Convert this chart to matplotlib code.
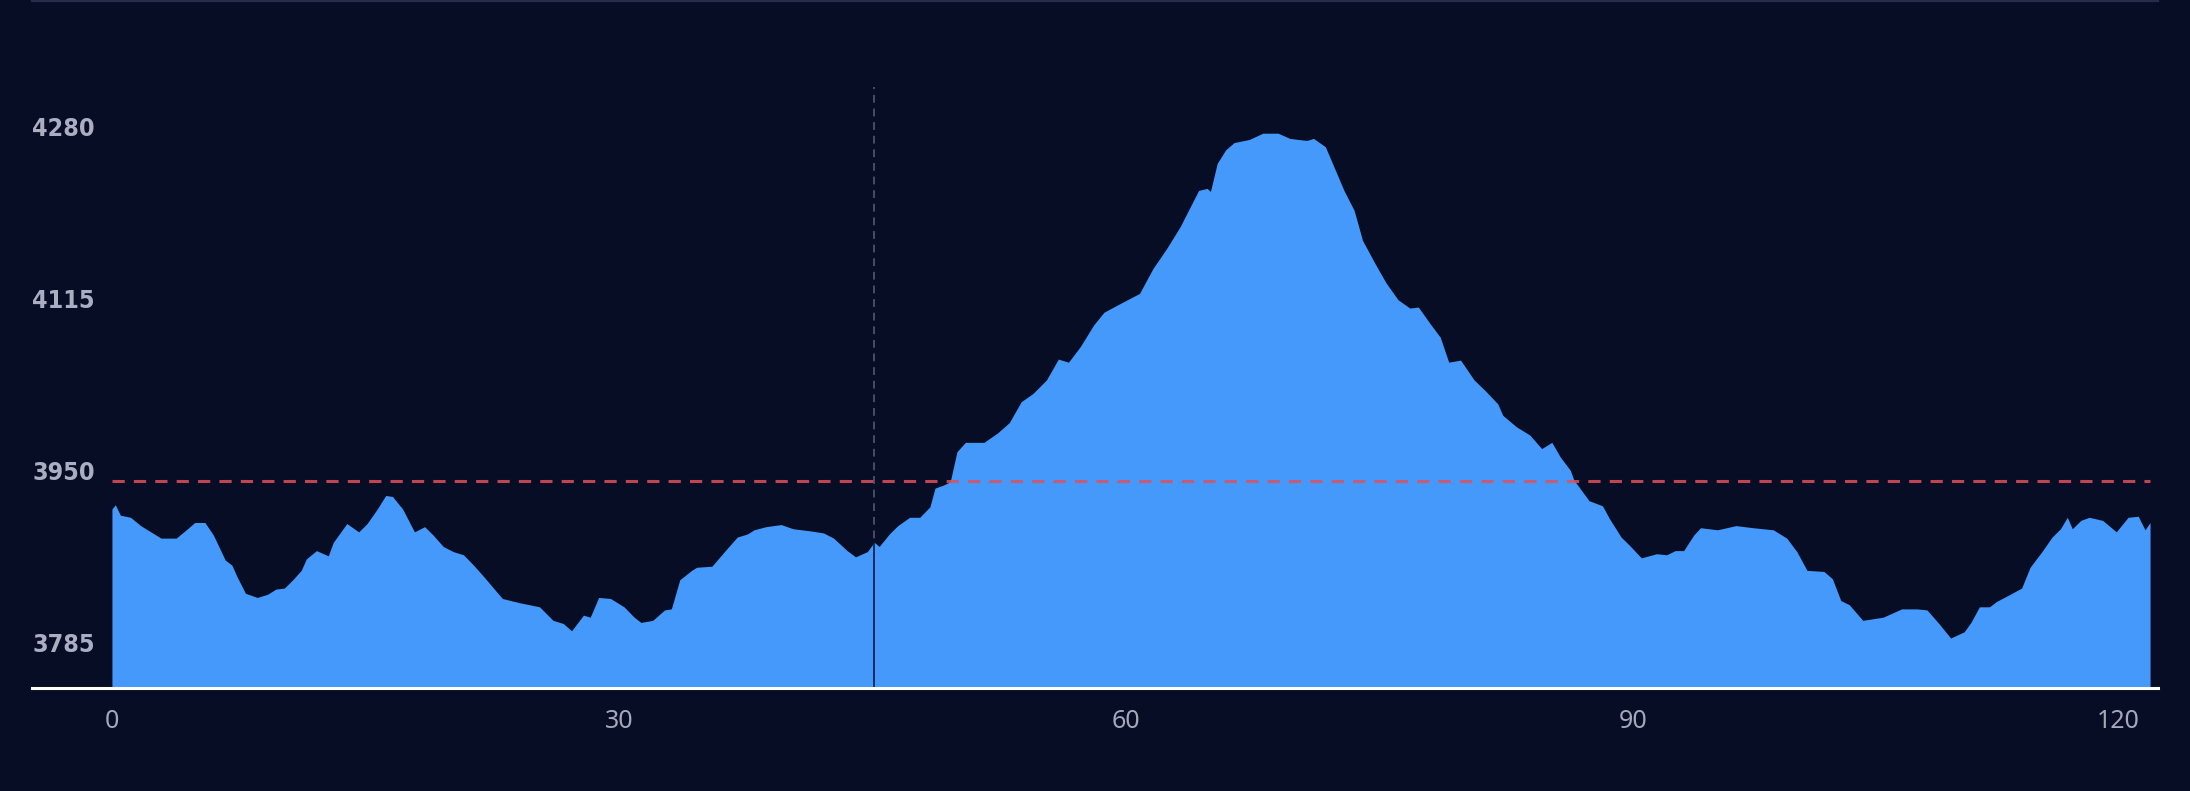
import numpy as np
import matplotlib
matplotlib.use("Agg")
import matplotlib.pyplot as plt
from matplotlib import font_manager

# elevation profile (distance, elevation)
dist = [0.0, 0.2, 0.5, 1.1, 1.7, 2.3, 2.9, 3.8, 4.4, 4.9, 5.5, 6.0, 6.7, 7.1, 7.4,
        7.9, 8.6, 9.2, 9.7, 10.2, 10.7, 11.2, 11.5, 12.1, 12.8, 13.1, 13.9, 14.6,
        15.1, 15.7, 16.2, 16.6, 17.2, 17.9, 18.5, 19.0, 19.6, 20.2, 20.8, 21.4,
        22.0, 23.1, 24.1, 25.3, 26.1, 26.7, 27.2, 27.9, 28.3, 28.8, 29.5, 30.3,
        30.9, 31.3, 32.0, 32.7, 33.1, 33.6, 34.3, 34.6, 35.5, 36.4, 37.0, 37.6,
        38.0, 38.7, 39.6, 40.3, 41.3, 42.1, 42.7, 43.5, 44.0, 44.7, 45.1, 45.4,
        46.0, 46.5, 47.2, 47.8, 48.4, 48.7, 49.2, 49.6, 50.0, 50.5, 51.6, 52.4,
        53.1, 53.8, 54.5, 55.3, 56.0, 56.6, 57.3, 58.1, 58.7, 59.5, 60.2, 60.8,
        61.6, 62.4, 63.2, 64.3, 64.8, 65.0, 65.4, 65.9, 66.4, 67.3, 68.1, 69.0,
        69.7, 70.7, 71.1, 71.8, 72.3, 72.9, 73.5, 74.0, 74.8, 75.4, 76.1, 76.8,
        77.3, 78.0, 78.6, 79.1, 79.8, 80.6, 81.3, 82.0, 82.3, 83.1, 83.9, 84.6,
        85.2, 85.7, 86.3, 86.5, 87.4, 88.2, 88.6, 89.3, 89.8, 90.5, 91.4, 92.0,
        92.5, 93.0, 93.6, 94.0, 95.0, 96.1, 97.1, 98.3, 99.1, 99.7, 100.3, 101.3,
        101.8, 102.3, 102.8, 103.6, 104.8, 105.9, 106.8, 107.4, 108.1, 108.8,
        109.6, 110.0, 110.5, 111.1, 111.5, 112.2, 113.0, 113.5, 114.2, 114.8,
        115.3, 115.7, 116.0, 116.5, 117.0, 117.8, 118.6, 119.3, 119.9, 120.3, 120.6]
elev = [3913, 3917, 3907, 3905, 3897, 3891, 3885, 3885, 3893, 3900, 3900, 3888,
        3864, 3859, 3848, 3832, 3828, 3831, 3836, 3837, 3845, 3854, 3865, 3873,
        3868, 3881, 3899, 3891, 3899, 3913, 3926, 3925, 3913, 3891, 3896, 3888,
        3877, 3872, 3869, 3859, 3848, 3827, 3823, 3819, 3806, 3803, 3796, 3811,
        3809, 3828, 3827, 3819, 3809, 3804, 3806, 3816, 3817, 3845, 3854, 3857,
        3858, 3875, 3886, 3889, 3893, 3896, 3898, 3894, 3892, 3890, 3885, 3873,
        3867, 3872, 3881, 3877, 3889, 3897, 3905, 3905, 3915, 3933, 3936, 3939,
        3968, 3977, 3977, 3986, 3996, 4016, 4024, 4037, 4057, 4054, 4069, 4090,
        4102, 4109, 4115, 4120, 4144, 4163, 4184, 4219, 4221, 4218, 4245, 4258,
        4265, 4268, 4274, 4274, 4269, 4267, 4269, 4261, 4242, 4219, 4200, 4171,
        4147, 4130, 4114, 4106, 4107, 4091, 4078, 4054, 4056, 4037, 4026, 4014,
        4003, 3992, 3984, 3971, 3977, 3963, 3950, 3941, 3921, 3916, 3904, 3886,
        3878, 3866, 3870, 3869, 3873, 3873, 3888, 3895, 3893, 3897, 3895, 3893,
        3885, 3872, 3854, 3853, 3846, 3825, 3821, 3806, 3809, 3817, 3817, 3816,
        3803, 3789, 3795, 3804, 3819, 3819, 3824, 3830, 3837, 3857, 3872, 3886,
        3894, 3905, 3894, 3902, 3905, 3902, 3891, 3905, 3906, 3893, 3900]

x_ticks = [0, 30, 60, 90, 120]
y_ticks = [3785, 3950, 4115, 4280]
avg_line = 3940        # red dashed reference level
cursor_x = 45.1        # vertical hover marker
cursor_top = 4318
x_lim = (-4.73, 121.07)
y_lim = (3741, 4401)

bg = "#070d25"
fill_col = "#4499fa"

# the y labels use a condensed face; pick whatever narrow font is around
fonts = font_manager.fontManager.ttflist
names = {f.name for f in fonts}
if "Liberation Sans Narrow" in names:
    yfont = dict(family=["Liberation Sans Narrow", "DejaVu Sans"], fontsize=20)
elif any(f.name == "DejaVu Sans" and "condensed" in str(f.stretch) for f in fonts):
    yfont = dict(family=["DejaVu Sans"], fontstretch="condensed", fontsize=18)
else:
    yfont = dict(family=["Roboto", "DejaVu Sans"], fontsize=17)

fig = plt.figure(figsize=(21.9, 7.91), dpi=100, facecolor=bg)
ax = fig.add_axes([32 / 2190, 103 / 791, 2126 / 2190, 687 / 791])
ax.set_facecolor(bg)

ax.fill_between(dist, elev, y_lim[0], color=fill_col, linewidth=0, zorder=2)

# red dashed average line
ax.hlines(avg_line, dist[0], dist[-1], colors="#e0505c", linewidth=2.2,
          linestyles=(0, (4, 3)), alpha=0.85, zorder=3)

# cursor line: grey dashes above the area, dark thin line over it
ax.vlines(cursor_x, y_lim[0], cursor_top, colors="#454d6b", linewidth=1.4,
          linestyles=(0, (4, 3)), zorder=1)
ax.vlines(cursor_x, y_lim[0], np.interp(cursor_x, dist, elev), colors="#0d1a45",
          linewidth=1.2, zorder=3)

ax.set_xlim(*x_lim)
ax.set_ylim(*y_lim)

for s in ["left", "right"]:
    ax.spines[s].set_visible(False)
ax.spines["bottom"].set_color("white")
ax.spines["bottom"].set_linewidth(2.2)
ax.spines["bottom"].set_zorder(4)
ax.spines["top"].set_color("#272d49")
ax.spines["top"].set_linewidth(1.6)

ax.set_xticks(x_ticks)
ax.set_xticklabels([str(t) for t in x_ticks], fontsize=18, color="#a3a8ba",
                   family=["Noto Sans", "DejaVu Sans"])
ax.get_xticklabels()[-1].set_horizontalalignment("right")
ax.tick_params(axis="x", length=0, pad=15)

ax.set_yticks(y_ticks)
ax.set_yticklabels([str(t) for t in y_ticks], color="#a9aec2", weight="bold",
                   ha="left", **yfont)
ax.tick_params(axis="y", length=0, pad=0)

fig.savefig("out.png", dpi=100, facecolor=bg)
